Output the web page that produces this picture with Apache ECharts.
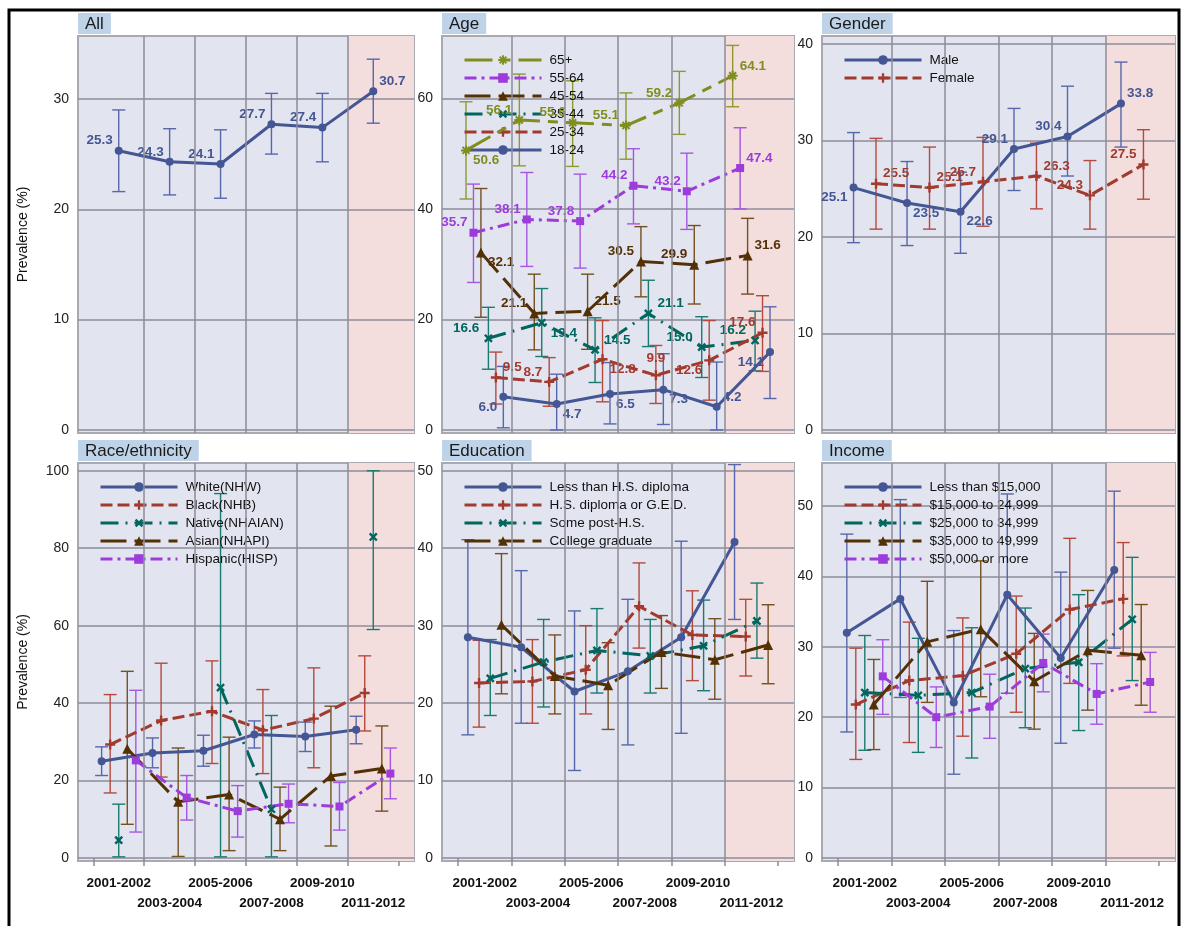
<!DOCTYPE html>
<html>
<head>
<meta charset="utf-8">
<script src="https://cdn.jsdelivr.net/npm/echarts@6/dist/echarts.min.js"></script>
<style>
  html, body { margin: 0; padding: 0; background: #fff; }
  #chart { width: 1181px; height: 926px; }
</style>
</head>
<body>
<div id="chart"></div>
<script>
// periods on the x axis
const periods = ['2001-2002', '2003-2004', '2005-2006', '2007-2008', '2009-2010', '2011-2012'];

// All
const allVal = [25.3, 24.3, 24.1, 27.7, 27.4, 30.7];
const allLo  = [21.6, 21.3, 21.0, 25.0, 24.3, 27.8];
const allHi  = [29.0, 27.3, 27.2, 30.5, 30.5, 33.6];

// Age
const age65     = [50.6, 56.1, 55.6, 55.1, 59.2, 64.1];
const age65Lo   = [41.8, 47.8, 47.7, 49.0, 53.5, 58.5];
const age65Hi   = [59.4, 64.4, 63.2, 61.0, 64.9, 69.6];
const age5564   = [35.7, 38.1, 37.8, 44.2, 43.2, 47.4];
const age5564Lo = [26.7, 29.6, 29.3, 37.3, 36.3, 40.0];
const age5564Hi = [44.5, 46.6, 46.3, 50.9, 50.1, 54.7];
const age4554   = [32.1, 21.1, 21.5, 30.5, 29.9, 31.6];
const age4554Lo = [20.4, 14.5, 14.6, 24.1, 22.8, 24.6];
const age4554Hi = [43.7, 28.2, 28.2, 36.8, 37.0, 38.3];
const age3544   = [16.6, 19.4, 14.5, 21.1, 15.0, 16.2];
const age3544Lo = [11.0, 13.3, 8.6, 15.1, 9.5, 10.7];
const age3544Hi = [22.2, 25.6, 20.3, 27.1, 20.5, 21.5];
const age2534   = [9.5, 8.7, 12.8, 9.9, 12.6, 17.6];
const age2534Lo = [4.7, 4.3, 5.1, 4.8, 5.4, 10.6];
const age2534Hi = [14.1, 13.1, 19.8, 15.3, 19.8, 24.3];
const age1824   = [6.0, 4.7, 6.5, 7.3, 4.2, 14.1];
const age1824Lo = [0.4, 0.0, 1.1, 1.0, 0.0, 5.7];
const age1824Hi = [11.5, 10.1, 12.2, 13.8, 12.3, 22.3];

// Gender
const male     = [25.1, 23.5, 22.6, 29.1, 30.4, 33.8];
const maleLo   = [19.4, 19.1, 18.3, 24.8, 26.3, 29.3];
const maleHi   = [30.8, 27.8, 26.7, 33.3, 35.6, 38.1];
const female   = [25.5, 25.1, 25.7, 26.3, 24.3, 27.5];
const femaleLo = [20.8, 20.8, 21.1, 22.9, 20.8, 23.9];
const femaleHi = [30.2, 29.3, 30.3, 29.7, 27.9, 31.1];

// Race/ethnicity
const white      = [25.0, 27.1, 27.7, 31.9, 31.4, 33.1];
const whiteLo    = [21.3, 23.3, 23.7, 28.4, 27.5, 29.5];
const whiteHi    = [28.7, 31.0, 31.7, 35.4, 35.1, 36.6];
const black      = [29.3, 35.5, 37.9, 33.0, 36.0, 42.6];
const blackLo    = [16.8, 20.9, 24.4, 21.8, 23.3, 32.8];
const blackHi    = [42.2, 50.3, 50.9, 43.5, 49.1, 52.2];
const native     = [4.6, null, 44.0, 12.6, null, 82.9];
const nativeLo   = [0.3, null, 0.3, 0.3, null, 59.0];
const nativeHi   = [13.9, null, 94.1, 36.8, null, 100.0];
const asian      = [28.2, 14.5, 16.4, 10.0, 21.2, 23.1];
const asianLo    = [8.7, 0.4, 1.9, 1.9, 3.1, 12.1];
const asianHi    = [48.2, 28.4, 31.2, 18.3, 39.2, 34.1];
const hispanic   = [25.2, 15.6, 12.1, 14.0, 13.3, 21.8];
const hispanicLo = [6.7, 9.8, 5.4, 9.1, 7.2, 15.3];
const hispanicHi = [43.3, 21.3, 18.7, 19.1, 19.5, 28.4];

// Education
const eduLess   = [28.5, 27.2, 21.5, 24.1, 28.5, 40.8];
const eduLessLo = [15.9, 17.4, 11.3, 14.6, 16.1, 30.8];
const eduLessHi = [41.1, 37.1, 31.9, 33.4, 40.9, 50.8];
const eduHS     = [22.6, 22.8, 24.3, 32.5, 28.8, 28.6];
const eduHSLo   = [16.9, 17.4, 18.6, 27.1, 22.9, 23.5];
const eduHSHi   = [28.1, 28.2, 30.0, 38.1, 34.5, 33.4];
const eduSome   = [23.2, 25.3, 26.8, 26.1, 27.4, 30.6];
const eduSomeLo = [18.4, 19.5, 21.3, 21.3, 21.6, 25.8];
const eduSomeHi = [28.2, 30.8, 32.2, 30.8, 33.3, 35.5];
const eduColl   = [30.1, 23.5, 22.3, 26.6, 25.6, 27.5];
const eduCollLo = [21.2, 18.6, 16.6, 21.9, 20.5, 22.5];
const eduCollHi = [39.3, 28.8, 27.8, 31.3, 30.9, 32.7];

// Income
const inc15   = [32.0, 36.8, 22.1, 37.4, 28.4, 40.9];
const inc15Lo = [17.9, 22.8, 11.9, 23.4, 16.3, 29.8];
const inc15Hi = [46.0, 50.9, 32.3, 51.7, 40.6, 52.1];
const inc25   = [21.8, 25.2, 25.9, 29.0, 35.3, 36.8];
const inc25Lo = [14.0, 16.4, 17.3, 20.7, 24.8, 28.7];
const inc25Hi = [29.8, 33.5, 34.1, 37.2, 45.4, 44.8];
const inc35   = [23.5, 23.1, 23.5, 26.9, 27.8, 33.9];
const inc35Lo = [15.3, 15.0, 14.2, 18.5, 18.1, 25.2];
const inc35Hi = [31.6, 31.2, 32.7, 35.5, 37.4, 42.7];
const inc50   = [21.8, 30.7, 32.5, 25.1, 29.5, 28.8];
const inc50Lo = [15.4, 22.1, 22.9, 18.3, 21.0, 21.7];
const inc50Hi = [28.2, 39.3, 42.2, 31.9, 38.0, 36.0];
const incTop   = [25.8, 20.0, 21.5, 27.7, 23.3, 25.0];
const incTopLo = [20.4, 15.7, 17.0, 23.6, 19.0, 20.7];
const incTopHi = [31.0, 24.3, 26.1, 31.8, 27.6, 29.2];

// ---- styles ----
const FONT = "'Liberation Sans',Arial,sans-serif";
const PLUS = 'path://M-1.2,-5H1.2V-1.2H5V1.2H1.2V5H-1.2V1.2H-5V-1.2H-1.2Z';
const STAR = 'path://M-1,-5H1V5H-1Z M-5,-1H5V1H-5Z M-4.2,-2.8L-2.8,-4.2L4.2,2.8L2.8,4.2Z M2.8,-4.2L4.2,-2.8L-2.8,4.2L-4.2,2.8Z';
const STY = [
  { color: '#445694', bar: '#5767ab', symbol: 'circle', size: 8, dash: 'solid' },
  { color: '#A23A2E', bar: '#b44a3e', symbol: PLUS, size: 10, dash: [12, 5] },
  { color: '#01665E', bar: '#1b7a70', symbol: PLUS, rotate: 45, size: 10, dash: [18, 7, 2, 7] },
  { color: '#543005', bar: '#74501f', symbol: 'triangle', size: 10, dash: [26, 8] },
  { color: '#9D3CDB', bar: '#a656e0', symbol: 'rect', size: 8, dash: [12, 5, 3, 5] },
  { color: '#7F8E1F', bar: '#8c9a30', symbol: STAR, size: 10, dash: [28, 8, 10, 8] }
];
const LABPOS = {
  tl: { position: 'left', offset: [3, -10] },
  tr: { position: 'right', offset: [-3, -10] },
  bl: { position: 'left', offset: [3, 10] },
  br: { position: 'right', offset: [-3, 10] },
  t:  { position: 'top', offset: [0, 0] }
};
const COLS = [{ left: 78, width: 336 }, { left: 442, width: 352 }, { left: 822, width: 353 }];
const ROWS = [{ top: 36, height: 397 }, { top: 463, height: 398 }];

const panels = [
  { title: 'All', col: 0, row: 0, max: 35.7, ticks: [0, 10, 20, 30], legend: false, groups: [
    { name: 'All', val: allVal, lo: allLo, hi: allHi, sty: 0, lab: ['tl', 'tl', 'tl', 'tl', 'tl', 'tr'] }
  ]},
  { title: 'Age', col: 1, row: 0, max: 71.3, ticks: [0, 20, 40, 60], legend: true, groups: [
    { name: '65+',   val: age65,   lo: age65Lo,   hi: age65Hi,   sty: 5, lab: ['br', 'tl', 'tl', 'tl', 'tl', 'tr'] },
    { name: '55-64', val: age5564, lo: age5564Lo, hi: age5564Hi, sty: 4, lab: ['tl', 'tl', 'tl', 'tl', 'tl', 'tr'] },
    { name: '45-54', val: age4554, lo: age4554Lo, hi: age4554Hi, sty: 3, lab: ['br', 'tl', 'tr', 'tl', 'tl', 'tr'] },
    { name: '35-44', val: age3544, lo: age3544Lo, hi: age3544Hi, sty: 2, lab: ['tl', 'br', 'tr', 'tr', 'tl', 'tl'] },
    { name: '25-34', val: age2534, lo: age2534Lo, hi: age2534Hi, sty: 1, lab: ['tr', 'tl', 'br', 't', 'bl', 'tl'] },
    { name: '18-24', val: age1824, lo: age1824Lo, hi: age1824Hi, sty: 0, lab: ['bl', 'br', 'br', 'br', 'tr', 'bl'] }
  ]},
  { title: 'Gender', col: 2, row: 0, max: 40.8, ticks: [0, 10, 20, 30, 40], legend: true, groups: [
    { name: 'Male',   val: male,   lo: maleLo,   hi: maleHi,   sty: 0, lab: ['bl', 'br', 'br', 'tl', 'tl', 'tr'] },
    { name: 'Female', val: female, lo: femaleLo, hi: femaleHi, sty: 1, lab: ['tr', 'tr', 'tl', 'tr', 'tl', 'tl'] }
  ]},
  { title: 'Race/ethnicity', col: 0, row: 1, max: 102, ticks: [0, 20, 40, 60, 80, 100], legend: true, groups: [
    { name: 'White(NHW)',     val: white,    lo: whiteLo,    hi: whiteHi,    sty: 0 },
    { name: 'Black(NHB)',     val: black,    lo: blackLo,    hi: blackHi,    sty: 1 },
    { name: 'Native(NHAIAN)', val: native,   lo: nativeLo,   hi: nativeHi,   sty: 2 },
    { name: 'Asian(NHAPI)',   val: asian,    lo: asianLo,    hi: asianHi,    sty: 3 },
    { name: 'Hispanic(HISP)', val: hispanic, lo: hispanicLo, hi: hispanicHi, sty: 4 }
  ]},
  { title: 'Education', col: 1, row: 1, max: 51, ticks: [0, 10, 20, 30, 40, 50], legend: true, groups: [
    { name: 'Less than H.S. diploma',   val: eduLess, lo: eduLessLo, hi: eduLessHi, sty: 0 },
    { name: 'H.S. diploma or G.E.D.',   val: eduHS,   lo: eduHSLo,   hi: eduHSHi,   sty: 1 },
    { name: 'Some post-H.S.',           val: eduSome, lo: eduSomeLo, hi: eduSomeHi, sty: 2 },
    { name: 'College graduate',         val: eduColl, lo: eduCollLo, hi: eduCollHi, sty: 3 }
  ]},
  { title: 'Income', col: 2, row: 1, max: 56.1, ticks: [0, 10, 20, 30, 40, 50], legend: true, groups: [
    { name: 'Less than $15,000',  val: inc15,  lo: inc15Lo,  hi: inc15Hi,  sty: 0 },
    { name: '$15,000 to 24,999',  val: inc25,  lo: inc25Lo,  hi: inc25Hi,  sty: 1 },
    { name: '$25,000 to 34,999',  val: inc35,  lo: inc35Lo,  hi: inc35Hi,  sty: 2 },
    { name: '$35,000 to 49,999',  val: inc50,  lo: inc50Lo,  hi: inc50Hi,  sty: 3 },
    { name: '$50,000 or more',    val: incTop, lo: incTopLo, hi: incTopHi, sty: 4 }
  ]}
];

const GRIDLINE = '#8d8d99';
const nz = v => (v == null ? '-' : v);

// error bar drawn through the axes
function errBar(color) {
  return function (params, api) {
    const lo = api.value(1), hi = api.value(2);
    if (isNaN(lo) || isNaN(hi)) return null;
    const x = api.value(0);
    const a = api.coord([x, lo]), b = api.coord([x, hi]);
    const w = 6.5;
    const st = { stroke: color, lineWidth: 1.4 };
    return { type: 'group', children: [
      { type: 'line', shape: { x1: a[0], y1: a[1], x2: b[0], y2: b[1] }, style: st },
      { type: 'line', shape: { x1: a[0] - w, y1: a[1], x2: a[0] + w, y2: a[1] }, style: st },
      { type: 'line', shape: { x1: b[0] - w, y1: b[1], x2: b[0] + w, y2: b[1] }, style: st }
    ]};
  };
}

function periodLabels(values) {
  return {
    show: true, customValues: values, margin: 15,
    showMinLabel: true, showMaxLabel: true, hideOverlap: false,
    fontFamily: FONT, fontSize: 13.5, fontWeight: 'bold', color: '#111',
    formatter: v => periods[Math.round(v) - 1]
  };
}

const option = {
  animation: false,
  backgroundColor: '#fff',
  title: [], grid: [], xAxis: [], yAxis: [], legend: [], series: [],
  graphic: [{
    type: 'rect', silent: true, z: 100,
    shape: { x: 9, y: 10, width: 1170, height: 940 },
    style: { fill: 'none', stroke: '#000', lineWidth: 3 }
  }]
};

panels.forEach((p, pi) => {
  const c = COLS[p.col], r = ROWS[p.row];
  const ymin = -3 * p.max / (r.height - 3);

  option.title.push({
    text: p.title, left: c.left, top: p.row ? 440 : 13,
    backgroundColor: '#bed2e8', padding: [2, 7, 1, 7],
    textStyle: { fontFamily: FONT, fontSize: 17, fontWeight: 'normal', color: '#1a1a1a', lineHeight: 18 }
  });

  option.grid.push({
    left: c.left, top: r.top, width: c.width, height: r.height,
    show: true, backgroundColor: '#e2e4f0', borderColor: '#a9a9b1', borderWidth: 2
  });

  const xi = option.xAxis.length;
  option.xAxis.push({
    type: 'value', gridIndex: pi, position: 'bottom', min: 0.2, max: 6.8,
    axisLine: { show: false },
    splitLine: { show: false },
    axisTick: p.row === 1
      ? { show: true, customValues: [0.5, 1.5, 2.5, 3.5, 4.5, 5.5, 6.5], length: 8, lineStyle: { color: GRIDLINE, width: 1.5 } }
      : { show: false },
    axisLabel: p.row === 1 ? periodLabels([1, 3, 5]) : { show: false }
  });
  if (p.row === 1) {
    // second row of staggered period labels
    option.xAxis.push({
      type: 'value', gridIndex: pi, position: 'bottom', offset: 20, min: 0.2, max: 6.8,
      axisLine: { show: false }, splitLine: { show: false }, axisTick: { show: false },
      axisLabel: periodLabels([2, 4, 6])
    });
  }

  option.yAxis.push({
    type: 'value', gridIndex: pi, min: ymin, max: p.max, z: 2,
    axisLine: { show: false },
    axisTick: { show: false, customValues: p.ticks },
    axisLabel: { customValues: p.ticks, fontFamily: FONT, fontSize: 14, color: '#222', margin: 9 },
    splitLine: { show: true, lineStyle: { color: GRIDLINE, width: 1.5 } },
    name: p.col === 0 ? 'Prevalence (%)' : '',
    nameLocation: 'middle', nameGap: 48,
    nameTextStyle: { fontFamily: FONT, fontSize: 14, color: '#111' }
  });

  // pink band for the last period and vertical grid lines
  option.series.push({
    type: 'line', name: '_band' + pi, xAxisIndex: xi, yAxisIndex: pi, data: [], z: 1, silent: true,
    markArea: { silent: true, itemStyle: { color: '#f3dddd' }, data: [[{ xAxis: 5.5 }, { xAxis: 6.8 }]] }
  });
  option.series.push({
    type: 'line', name: '_vgrid' + pi, xAxisIndex: xi, yAxisIndex: pi, data: [], z: 2, silent: true,
    markLine: {
      silent: true, symbol: 'none', label: { show: false },
      lineStyle: { color: GRIDLINE, width: 1.5, type: 'solid' },
      data: [1.5, 2.5, 3.5, 4.5, 5.5].map(v => ({ xAxis: v }))
    }
  });

  const n = p.groups.length;
  p.groups.forEach((g, gi) => {
    const s = STY[g.sty];
    const off = (gi - (n - 1) / 2) * 0.84 / n;
    option.series.push({
      type: 'custom', name: '_ci_' + g.name, xAxisIndex: xi, yAxisIndex: pi, z: 3, silent: true,
      renderItem: errBar(s.bar),
      encode: { x: 0, y: [1, 2] },
      data: g.val.map((v, i) => [i + 1 + off, nz(g.lo[i]), nz(g.hi[i])])
    });
    option.series.push({
      type: 'line', name: g.name, xAxisIndex: xi, yAxisIndex: pi, z: 4,
      symbol: s.symbol, symbolSize: s.size, symbolRotate: s.rotate || 0,
      connectNulls: false,
      lineStyle: { color: s.color, width: 3, type: s.dash },
      itemStyle: { color: s.color },
      label: {
        show: !!g.lab, color: s.color, fontFamily: FONT, fontSize: 13.5, fontWeight: 'bold',
        formatter: q => Number(q.value[1]).toFixed(1)
      },
      data: g.val.map((v, i) => {
        const item = { value: [i + 1 + off, nz(v)] };
        if (g.lab) item.label = LABPOS[g.lab[i]];
        return item;
      })
    });
  });

  if (p.legend) {
    option.legend.push({
      orient: 'vertical', left: c.left + 16, top: r.top + 12,
      data: p.groups.map(g => g.name),
      itemWidth: 77, itemHeight: 12, itemGap: 4, selectedMode: false,
      lineStyle: { width: 3 },
      textStyle: { fontFamily: FONT, fontSize: 13.5, color: '#111', lineHeight: 14, padding: [0, 0, 0, 3] }
    });
  }
});

const chart = echarts.init(document.getElementById('chart'));
chart.setOption(option);
</script>
</body>
</html>
